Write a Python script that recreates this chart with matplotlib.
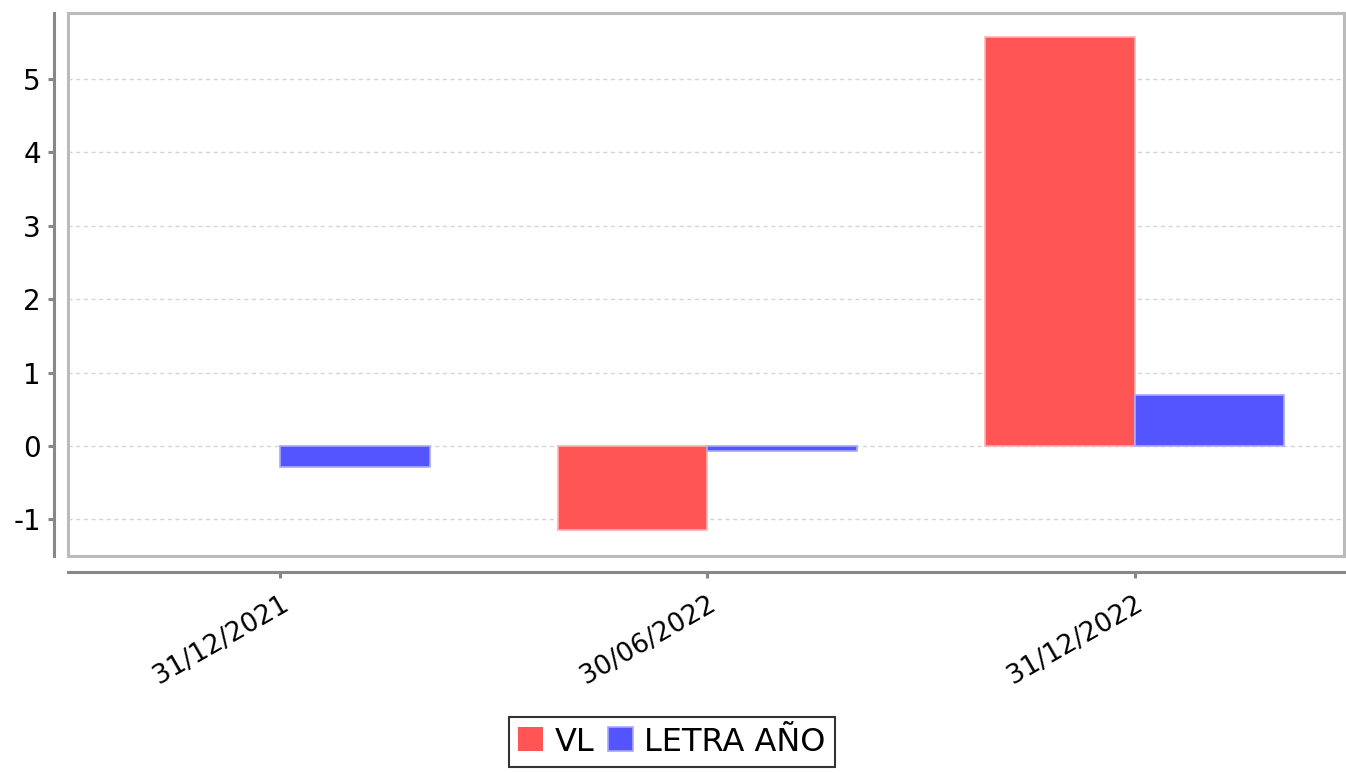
import matplotlib
matplotlib.use("Agg")
import matplotlib.pyplot as plt
import numpy as np
from matplotlib.patches import Rectangle

plt.rcParams["axes.unicode_minus"] = False

# data
fechas = ["31/12/2021", "30/06/2022", "31/12/2022"]
vl = [0.0, -1.14, 5.57]
letra_anio = [-0.29, -0.07, 0.69]

fig = plt.figure(figsize=(13.46, 7.73), dpi=100)
ax = fig.add_axes([68 / 1346, 1 - 556 / 773, 1276 / 1346, 543 / 773])

x = np.arange(len(fechas))
w = 0.35
b1 = ax.bar(x - w / 2, vl, width=w, align="center", color="#ff5555",
            edgecolor="#ffb0b0", linewidth=1.2, label="VL", zorder=3)
b2 = ax.bar(x + w / 2, letra_anio, width=w, align="center", color="#5555ff",
            edgecolor="#a8a8ff", linewidth=1.2, label="LETRA AÑO", zorder=3)
# a bar of height zero leaves no outline in the original
for bars, vals in [(b1, vl), (b2, letra_anio)]:
    for r, v in zip(bars, vals):
        if v == 0:
            r.set_linewidth(0)

ax.set_xlim(-0.497, 2.49)
ax.set_ylim(-1.5, 5.9)

ax.grid(axis="y", color="#d6d6d6", linestyle=(0, (3, 2.5)), linewidth=1.0, zorder=0)

# light frame round the plot area, axis lines set apart from it
for s in ["top", "right"]:
    ax.spines[s].set_color("#bbbbbb")
    ax.spines[s].set_linewidth(2.2)
ax.add_patch(Rectangle((0, 0), 1, 1, transform=ax.transAxes, fill=False,
                       edgecolor="#bbbbbb", linewidth=2.2, clip_on=False, zorder=4))
ax.spines["left"].set_position(("outward", 10))
ax.spines["bottom"].set_position(("outward", 11.5))
for s in ["left", "bottom"]:
    ax.spines[s].set_color("#888888")
    ax.spines[s].set_linewidth(2.2)

# ticks after the spines are moved, since moving them resets the ticks
ax.set_yticks([-1, 0, 1, 2, 3, 4, 5])
ax.set_xticks(x)
ax.set_xticklabels(fechas)
ax.tick_params(axis="both", colors="#888888", width=2.2, length=4.5,
               labelcolor="black")
ax.tick_params(axis="y", labelsize=20, pad=5)
ax.tick_params(axis="x", labelsize=19, pad=9)
for lab in ax.get_xticklabels():
    lab.set_rotation(30)
    lab.set_ha("right")
    lab.set_rotation_mode("anchor")

fig.legend(loc="upper center", bbox_to_anchor=(672 / 1346, 1 - 717 / 773),
           ncol=2, fontsize=23, frameon=True, fancybox=False, edgecolor="black",
           handlelength=0.78, handleheight=0.78, handletextpad=0.35,
           columnspacing=0.45, borderpad=0.3, borderaxespad=0)
leg = fig.legends[0]
leg.get_frame().set_linewidth(1.5)

fig.savefig("out.png", dpi=100)
